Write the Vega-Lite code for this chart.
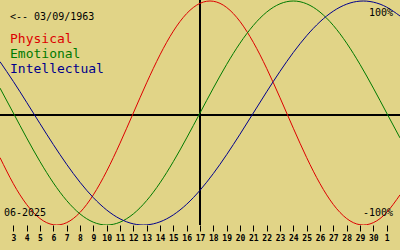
{
  "$schema": "https://vega.github.io/schema/vega-lite/v6.json",
  "width": 400,
  "height": 225,
  "autosize": {"type": "none"},
  "padding": {"left": 0, "top": 0, "right": 0, "bottom": 25},
  "background": "#E1D487",
  "config": {
    "view": {"stroke": null},
    "text": {"font": "DejaVu Sans Mono", "baseline": "alphabetic"}
  },
  "datasets": {
    "curves": [
      {"d": 2, "Physical": -0.3984, "Emotional": 0.2225, "Intellectual": 0.4582},
      {"d": 3, "Physical": -0.6311, "Emotional": 0, "Intellectual": 0.2817},
      {"d": 4, "Physical": -0.8170, "Emotional": -0.2225, "Intellectual": 0.0951},
      {"d": 5, "Physical": -0.9423, "Emotional": -0.4339, "Intellectual": -0.0951},
      {"d": 6, "Physical": -0.9977, "Emotional": -0.6235, "Intellectual": -0.2817},
      {"d": 7, "Physical": -0.9791, "Emotional": -0.7818, "Intellectual": -0.4582},
      {"d": 8, "Physical": -0.8879, "Emotional": -0.9010, "Intellectual": -0.6182},
      {"d": 9, "Physical": -0.7308, "Emotional": -0.9749, "Intellectual": -0.7557},
      {"d": 10, "Physical": -0.5196, "Emotional": -1, "Intellectual": -0.8660},
      {"d": 11, "Physical": -0.2698, "Emotional": -0.9749, "Intellectual": -0.9450},
      {"d": 12, "Physical": 0, "Emotional": -0.9010, "Intellectual": -0.9898},
      {"d": 13, "Physical": 0.2698, "Emotional": -0.7818, "Intellectual": -0.9989},
      {"d": 14, "Physical": 0.5196, "Emotional": -0.6235, "Intellectual": -0.9718},
      {"d": 15, "Physical": 0.7308, "Emotional": -0.4339, "Intellectual": -0.9096},
      {"d": 16, "Physical": 0.8879, "Emotional": -0.2225, "Intellectual": -0.8146},
      {"d": 17, "Physical": 0.9791, "Emotional": 0, "Intellectual": -0.6901},
      {"d": 18, "Physical": 0.9977, "Emotional": 0.2225, "Intellectual": -0.5406},
      {"d": 19, "Physical": 0.9423, "Emotional": 0.4339, "Intellectual": -0.3717},
      {"d": 20, "Physical": 0.8170, "Emotional": 0.6235, "Intellectual": -0.1893},
      {"d": 21, "Physical": 0.6311, "Emotional": 0.7818, "Intellectual": 0},
      {"d": 22, "Physical": 0.3984, "Emotional": 0.9010, "Intellectual": 0.1893},
      {"d": 23, "Physical": 0.1362, "Emotional": 0.9749, "Intellectual": 0.3717},
      {"d": 24, "Physical": -0.1362, "Emotional": 1, "Intellectual": 0.5406},
      {"d": 25, "Physical": -0.3984, "Emotional": 0.9749, "Intellectual": 0.6901},
      {"d": 26, "Physical": -0.6311, "Emotional": 0.9010, "Intellectual": 0.8146},
      {"d": 27, "Physical": -0.8170, "Emotional": 0.7818, "Intellectual": 0.9096},
      {"d": 28, "Physical": -0.9423, "Emotional": 0.6235, "Intellectual": 0.9718},
      {"d": 29, "Physical": -0.9977, "Emotional": 0.4339, "Intellectual": 0.9989},
      {"d": 30, "Physical": -0.9791, "Emotional": 0.2225, "Intellectual": 0.9898},
      {"d": 31, "Physical": -0.8879, "Emotional": 0, "Intellectual": 0.9450},
      {"d": 32, "Physical": -0.7308, "Emotional": -0.2225, "Intellectual": 0.8660}
    ]
  },
  "layer": [
    {
      "data": {"values": [{}]},
      "mark": {"type": "rule", "color": "#000000", "strokeWidth": 2},
      "encoding": {
        "y": {"datum": -0.0179, "type": "quantitative", "scale": {"domain": [-1, 1.00893], "nice": false, "zero": false}, "axis": null}
      }
    },
    {
      "data": {"values": [{}]},
      "mark": {"type": "rule", "color": "#000000", "strokeWidth": 2},
      "encoding": {
        "x": {
          "datum": 17, "type": "quantitative",
          "scale": {"domain": [2, 32], "nice": false, "zero": false},
          "axis": {
            "values": [3,4,5,6,7,8,9,10,11,12,13,14,15,16,17,18,19,20,21,22,23,24,25,26,27,28,29,30,31],
            "tickCount": 40,
            "labelExpr": "datum.value > 30 ? '' + (datum.value - 30) : '' + datum.value",
            "domain": false, "grid": false, "title": null,
            "tickSize": 6, "tickColor": "#000000", "tickWidth": 1,
            "labelFont": "DejaVu Sans Mono", "labelFontSize": 8, "labelFontWeight": "bold",
            "labelColor": "#000000", "labelPadding": 3, "labelDx": -1,
            "labelFlush": false, "labelOverlap": false
          }
        }
      }
    },
    {
      "data": {"name": "curves"},
      "transform": [{"fold": ["Physical", "Emotional", "Intellectual"], "as": ["series", "value"]}],
      "mark": {"type": "line", "strokeWidth": 1, "interpolate": "natural", "clip": true},
      "encoding": {
        "x": {
          "field": "d", "type": "quantitative",
          "scale": {"domain": [2, 32], "nice": false, "zero": false},
          "axis": {
            "values": [3,4,5,6,7,8,9,10,11,12,13,14,15,16,17,18,19,20,21,22,23,24,25,26,27,28,29,30,31],
            "tickCount": 40,
            "labelExpr": "datum.value > 30 ? '' + (datum.value - 30) : '' + datum.value",
            "domain": false, "grid": false, "title": null,
            "tickSize": 6, "tickColor": "#000000", "tickWidth": 1,
            "labelFont": "DejaVu Sans Mono", "labelFontSize": 8, "labelFontWeight": "bold",
            "labelColor": "#000000", "labelPadding": 3, "labelDx": -1,
            "labelFlush": false, "labelOverlap": false
          }
        },
        "y": {"field": "value", "type": "quantitative", "scale": {"domain": [-1, 1.00893], "nice": false, "zero": false}, "axis": null},
        "color": {
          "field": "series", "type": "nominal",
          "scale": {"domain": ["Physical", "Emotional", "Intellectual"], "range": ["#DD0000", "#007A00", "#00008C"]},
          "legend": null
        },
        "detail": {"field": "series"}
      }
    },
    {
      "data": {"values": [{}]},
      "mark": {"type": "text", "text": "<-- 03/09/1963", "fontSize": 10, "align": "left", "color": "#000000"},
      "encoding": {
        "x": {"datum": 2.75, "type": "quantitative"},
        "y": {"datum": 0.83, "type": "quantitative"}
      }
    },
    {
      "data": {"values": [{}]},
      "mark": {"type": "text", "text": "Physical", "fontSize": 13, "align": "left", "color": "#DD0000"},
      "encoding": {
        "x": {"datum": 2.75, "type": "quantitative"},
        "y": {"datum": 0.629, "type": "quantitative"}
      }
    },
    {
      "data": {"values": [{}]},
      "mark": {"type": "text", "text": "Emotional", "fontSize": 13, "align": "left", "color": "#007A00"},
      "encoding": {
        "x": {"datum": 2.75, "type": "quantitative"},
        "y": {"datum": 0.491, "type": "quantitative"}
      }
    },
    {
      "data": {"values": [{}]},
      "mark": {"type": "text", "text": "Intellectual", "fontSize": 13, "align": "left", "color": "#00008C"},
      "encoding": {
        "x": {"datum": 2.75, "type": "quantitative"},
        "y": {"datum": 0.357, "type": "quantitative"}
      }
    },
    {
      "data": {"values": [{}]},
      "mark": {"type": "text", "text": "100%", "fontSize": 10, "align": "right", "color": "#000000"},
      "encoding": {
        "x": {"datum": 31.475, "type": "quantitative"},
        "y": {"datum": 0.866, "type": "quantitative"}
      }
    },
    {
      "data": {"values": [{}]},
      "mark": {"type": "text", "text": "-100%", "fontSize": 10, "align": "right", "color": "#000000"},
      "encoding": {
        "x": {"datum": 31.475, "type": "quantitative"},
        "y": {"datum": -0.917, "type": "quantitative"}
      }
    },
    {
      "data": {"values": [{}]},
      "mark": {"type": "text", "text": "06-2025", "fontSize": 10, "align": "left", "color": "#000000"},
      "encoding": {
        "x": {"datum": 2.3, "type": "quantitative"},
        "y": {"datum": -0.917, "type": "quantitative"}
      }
    }
  ]
}
